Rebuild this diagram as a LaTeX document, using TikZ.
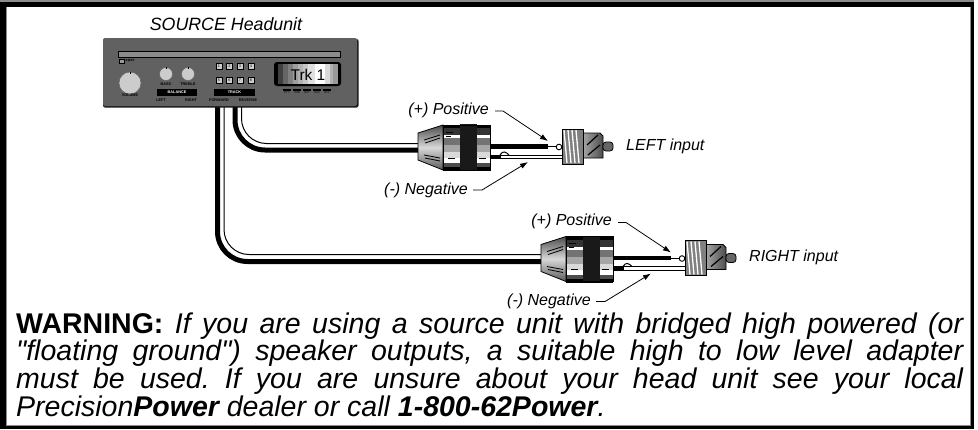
\documentclass[tikz,border=0pt]{standalone}
\usepackage{fontspec}
\usetikzlibrary{arrows.meta}
\setmainfont{Liberation Sans}[Ligatures=TeXOff]
\tikzset{
  calltext/.style = {font=\fontsize{16}{18}\selectfont\itshape, inner sep=0pt},
  tinytext/.style = {font=\fontsize{3.8}{4}\selectfont\bfseries, inner sep=0pt, text=black},
  leader/.style = {-{Latex[length=8pt,width=5.5pt]}, line width=0.8pt},
  knob/.style = {draw=black!60, line width=0.5pt, fill=black!20},
  keycap/.style = {draw=black, line width=0.8pt, fill=black!20, minimum size=6pt, inner sep=0pt, font=\fontsize{3.8}{4}\selectfont},
  pics/plug/.style = {code={
    % cone and collars
    % ----------------
    \draw [line width=0.8pt, top color=black!70, bottom color=black!65, middle color=black!15]
      (418, 133) -- (443, 125) -- (443, 170) -- (418, 160) -- cycle;
    \foreach \y/\c in {125/black, 128/black!80, 138/black!55, 145/black!35, 152/black!15, 158/white, 163/black!70, 167/black} {
      \fill [\c] (443, \y) rectangle (490, \y + 7);
    }
    \fill [white] (430, 171) rectangle (495, 178);
    \fill [black!90] (460, 124) rectangle (477, 170.5);
    \draw [line width=0.8pt] (443, 125) rectangle (490, 170);
    \draw [line width=0.8pt] (424, 140) -- (440, 135) (425, 143) -- (440, 138);
    \draw [line width=0.8pt] (424, 155) -- (440, 158) (425, 158) -- (440, 161);
    \draw [line width=0.8pt] (446, 132) -- (453, 132) (446, 136) -- (451, 136);
    \draw [line width=0.8pt] (448, 158) -- (455, 158) (479, 158) -- (486, 158);
    % wires
    % -----
    \draw [line width=4.5pt] (490, 146.7) -- (548, 146.7);
    \draw [line width=1pt] (548, 146.7) -- (556, 146.7);
    \draw [line width=0.9pt, fill=white] (559, 147) circle (2.8);
    \draw [line width=4.5pt] (490, 157) -- (562, 157);
    \draw [white, line width=2.6pt] (501, 157) -- (562, 157);
    \draw [line width=1pt] (500, 155) .. controls (503, 150) and (506, 152) .. (509, 155);
    % rca plug
    % --------
    \draw [line width=0.9pt, left color=black!35, right color=black!70]
      (583, 133) -- (600, 133) -- (603, 136) -- (603, 158) -- (583, 158) -- cycle;
    \draw [line width=1.2pt] (587, 145) -- (598, 135) (588, 155) -- (600, 145);
    \draw [line width=0.8pt, fill=black!60, rounded corners=3pt]
      (603, 142) -- (613, 142) -- (613, 151) -- (603, 151) -- cycle;
    \draw [line width=1pt, fill=black!50] (562, 129) rectangle (583, 164);
    \foreach \x in {564, 568, 572, 576} {
      \draw [white, line width=1.3pt] (\x, 130) -- (\x + 3, 163);
    }
    % labels
    % ------
    \node [calltext, anchor=east] (-pos) at (489, 110) {(+) Positive};
    \node [calltext, anchor=east] (-neg) at (468, 190) {(-) Negative};
    \node [calltext, anchor=west] (-name) at (626, 146) {#1};
    \coordinate (-postip) at (548, 141);
    \coordinate (-negtip) at (528, 162);
    \draw [leader] (-pos.east) ++(6, 1) -- ++(8, 0) -- (-postip);
    \draw [leader] (-neg.east) ++(5, 0) -- ++(9, 0) -- (-negtip);
  }}
}
\begin{document}
\begin{tikzpicture}[x=1pt, y=-1pt]
  \useasboundingbox (0, 0) rectangle (978, 429);

  % frame
  % -----
  \fill [black!45] (0, 0) rectangle (974, 429);
  \fill [black] (0, 2) rectangle (974, 429);
  \fill [black!45] (6, 7) rectangle (971, 426);
  \fill [white] (7, 7) rectangle (970, 425);

  % cables
  % ------
  \coordinate (leftthick) at (235, 107);
  \coordinate (leftthin) at (241.5, 107);
  \coordinate (rightthick) at (217.5, 107);
  \coordinate (rightthin) at (224, 107);
  \coordinate (leftthickend) at (420, 150);
  \coordinate (leftthinend) at (420, 143.5);
  \coordinate (rightthickend) at (543, 261.5);
  \coordinate (rightthinend) at (543, 254.5);
  \draw [line width=5pt, rounded corners=30pt] (leftthick) |- (leftthickend);
  \draw [line width=1pt, rounded corners=25pt] (leftthin) |- (leftthinend);
  \draw [line width=5pt, rounded corners=30pt] (rightthick) |- (rightthickend);
  \draw [line width=1pt, rounded corners=25pt] (rightthin) |- (rightthinend);

  % headunit
  % --------
  \node [calltext, font=\fontsize{17.8}{20}\selectfont\itshape] (title) at (226, 24) {SOURCE Headunit};
  \fill [black!90, rounded corners=2pt] (103, 39) rectangle (358.5, 107.5);
  \fill [black!62, rounded corners=2pt] (103, 38) rectangle (357, 106);
  \draw [line width=0.8pt, fill=black!45] (118, 51) rectangle (340, 57);
  \draw [line width=0.8pt, fill=black!40] (119, 59.5) rectangle (124.5, 63);
  \node [tinytext] (eject) at (130, 61) {eject};

  \node [knob, circle, minimum size=22pt, inner sep=0pt] (volume) at (130, 83) {};
  \node [knob, circle, minimum size=13pt, inner sep=0pt] (bass) at (166, 74) {};
  \node [knob, circle, minimum size=13pt, inner sep=0pt] (treble) at (188, 74) {};
  \draw [line width=0.8pt] (volume.north) -- ++(0, 2);
  \draw [line width=0.8pt] (bass.north) -- ++(0, 2);
  \draw [line width=0.8pt] (treble.north) -- ++(0, 2);
  \node [tinytext] (volumetext) at (130, 95.5) {VOLUME};
  \node [tinytext] (basstext) at (166, 84) {BASS};
  \node [tinytext] (trebletext) at (188, 84.5) {TREBLE};

  \fill [black] (157, 89) rectangle (197, 96);
  \node [tinytext, text=white] (balance) at (177, 92.5) {BALANCE};
  \node [tinytext] (lefttext) at (161, 100.5) {LEFT};
  \node [tinytext] (righttext) at (191, 100.5) {RIGHT};
  \fill [black] (214, 89) rectangle (255, 96);
  \node [tinytext, text=white] (track) at (234.5, 92.5) {TRACK};
  \node [tinytext] (forward) at (219, 100.5) {FORWARD};
  \node [tinytext] (reverse) at (248, 100.5) {REVERSE};

  \foreach \x/\m/\n in {219/1/5, 229.5/2/6, 240/3/7, 251/4/8} {
    \node [keycap] (key\m) at (\x, 66) {\m};
    \node [keycap] (key\n) at (\x, 80) {\n};
  }

  % display
  % -------
  \fill [black, rounded corners=3pt] (274, 62) rectangle (341, 86);
  \foreach \x/\c in {278/black!75, 283/black!60, 288/black!50, 293/black!38, 298/black!30, 303/black!22, 308/black!12, 315/white, 320/white, 325/black!15, 330/black!30, 333/black!40} {
    \fill [\c] (\x, 64) rectangle (\x + 7, 84);
  }
  \fill [black] (338, 64) rectangle (341, 84);
  \node [inner sep=0pt, font=\fontsize{15.5}{18}\selectfont] (trk) at (308, 74.5) {Trk 1};
  \foreach \x/\t in {287/PTY, 297/SUB, 307/NXT, 317/DSC, 327/OFF} {
    \fill [black] (\x - 4, 89) rectangle (\x + 4, 91);
    \node [tinytext, font=\fontsize{2.8}{3}\selectfont] (btn\t) at (\x, 93) {\t};
  }

  % plugs
  % -----
  \pic (left) at (0, 0) {plug={LEFT input}};
  \pic (right) at (123, 111.5) {plug={RIGHT input}};

  % warning
  % -------
  \node [anchor=north west, inner sep=0pt, text width=947pt, align=justify,
         font=\fontsize{28.5}{26.5}\selectfont] (warning) at (16, 312.5) {%
    \frenchspacing
    \textbf{WARNING:} \textit{If you are using a source unit with bridged high powered (or\linebreak
    "floating ground") speaker outputs, a suitable high to low level adapter\linebreak
    must be used. If you are unsure about your head unit see your local\linebreak
    Precision\textbf{Power} dealer or call \textbf{1-800-62Power}.}};
\end{tikzpicture}
\end{document}
